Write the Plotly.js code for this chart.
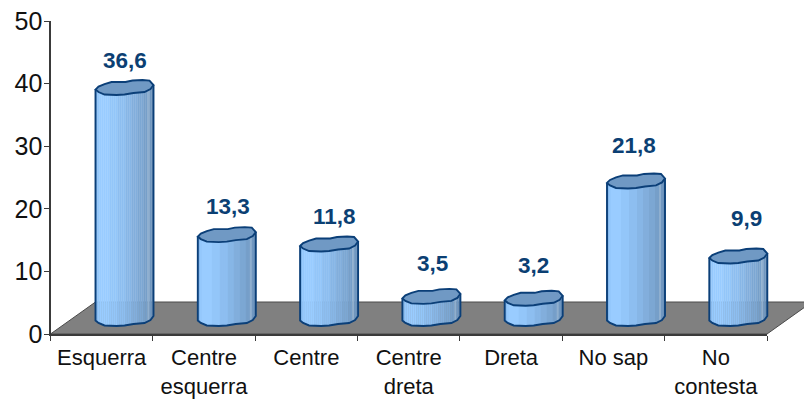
<!DOCTYPE html>
<html>
<head>
<meta charset="utf-8">
<script src="https://cdn.plot.ly/plotly-3.0.1.min.js"></script>
<style>html,body{margin:0;padding:0;background:#fff}#chart{width:804px;height:400px}</style>
</head>
<body>
<div id="chart"></div>
<script>
const categories = ['Esquerra','Centre<br>esquerra','Centre','Centre<br>dreta','Dreta','No sap','No<br>contesta'];
const values = [36.6,13.3,11.8,3.5,3.2,21.8,9.9];
const labelLift = [28,29,28.5,33,33,36,38.5];
const labelNudge = [0.5,1,5,1.5,-0.5,-2,8];
const bandColors = ['#86BAEF','#94C8FC','#99CCFF','#99CCFF','#99CCFF','#99CCFF','#99CCFF',
  '#93C6F9','#93C6F9','#93C6F9','#93C6F9','#8DBEF0','#8DBEF0','#8DBEF0','#8DBEF0',
  '#87B6E6','#87B6E6','#87B6E6','#82AEDC','#82AEDC','#82AEDC','#7CA7D3','#7CA7D3','#7CA7D3',
  '#769FC9','#769FC9','#8FAFCF','#7097C0','#6C92BA'];

const W = 804, H = 400;
const pxX = 102.3, pxY = 6.31;
const idx = categories.map((_, i) => i);
const rimBack = [[-29,1.5],[-26,-1.5],[-20,-4],[-13,-6],[-6,-6],[1,-6],[8,-7.5],[18,-8],[25,-7.5],[29,-3]];
const rimFront = [[-29,1.5],[-26,4],[-20,6.5],[-8,7],[0,6.5],[9,5],[20,4],[26,1],[29,-3]];

const dx = p => p / pxX;
const dy = p => -p / pxY;
function frontAt(p) {
  for (let k = 0; k < rimFront.length - 1; k++) {
    const a = rimFront[k], b = rimFront[k + 1];
    if (p >= a[0] && p <= b[0]) return a[1] + (b[1] - a[1]) * (p - a[0]) / (b[0] - a[0]);
  }
  return 0;
}

const traces = [{
  type: 'scatter', mode: 'none', x: categories, y: values, xaxis: 'x', yaxis: 'y',
  hoverinfo: 'skip', showlegend: false
}];
bandColors.forEach((color, s) => {
  const left = -29 + 2 * s, mid = left + 1;
  const base = dy(frontAt(mid));
  traces.push({
    type: 'bar', xaxis: 'x2', yaxis: 'y2', x: idx,
    y: values.map(v => v - base),
    base: values.map(() => base),
    width: dx(2.3), offset: dx(left),
    marker: {color, line: {width: 0}},
    hoverinfo: 'skip', showlegend: false
  });
});

const shapes = [{
  type: 'path', layer: 'below', xref: 'paper', yref: 'paper',
  path: 'M ' + 50.5 / W + ' ' + (H - 334) / H + ' L ' + 767 / W + ' ' + (H - 334) / H +
        ' L ' + 812 / W + ' ' + (H - 302) / H + ' L ' + 95.5 / W + ' ' + (H - 302) / H + ' Z',
  fillcolor: '#808080', line: {color: '#4a4a4a', width: 1}
}];
const edge = {color: '#0B3F78', width: 1.9};
const pt = (i, v, o) => (i + dx(o[0])) + ' ' + (v + dy(o[1]));
values.forEach((v, i) => {
  let d = 'M ' + pt(i, v, rimFront[0]);
  rimFront.forEach(o => { d += ' L ' + pt(i, 0, o); });
  d += ' L ' + pt(i, v, rimFront[rimFront.length - 1]);
  shapes.push({type: 'path', layer: 'above', xref: 'x2', yref: 'y2', path: d, line: edge});
  let r = 'M ' + rimBack.map(o => pt(i, v, o)).join(' L ');
  rimFront.slice().reverse().slice(1, -1).forEach(o => { r += ' L ' + pt(i, v, o); });
  r += ' Z';
  shapes.push({type: 'path', layer: 'above', xref: 'x2', yref: 'y2', path: r, fillcolor: '#7099C4', line: edge});
});

const annotations = values.map((v, i) => ({
  xref: 'x2', yref: 'y2', x: i, y: v, xanchor: 'center', yanchor: 'middle',
  xshift: labelNudge[i], yshift: labelLift[i], showarrow: false,
  text: String(v).replace('.', ','),
  font: {family: 'Liberation Sans, Arial, sans-serif', size: 22.5, color: '#0B3F73', weight: 'bold'}
}));

const axisLine = '#3a3a3a';
const layout = {
  width: W, height: H, margin: {l: 0, r: 0, t: 0, b: 0},
  paper_bgcolor: 'rgba(0,0,0,0)', plot_bgcolor: 'rgba(0,0,0,0)',
  barmode: 'overlay', showlegend: false,
  font: {family: 'Liberation Sans, Arial, sans-serif', color: '#111'},
  xaxis: {
    domain: [50.5 / W, 767 / W], anchor: 'y', type: 'category', range: [-0.5, 6.5],
    tickson: 'boundaries', ticks: 'outside', ticklen: 5, tickwidth: 1, tickcolor: axisLine,
    showline: true, linecolor: axisLine, linewidth: 1.5, showgrid: false, zeroline: false,
    tickfont: {size: 22, color: '#111'}, tickangle: 0, ticklabelstandoff: 3, fixedrange: true
  },
  yaxis: {
    domain: [(H - 334) / H, (H - 21) / H], anchor: 'x', range: [0, 50], dtick: 10,
    ticks: 'outside', ticklen: 5, tickwidth: 1, tickcolor: axisLine,
    showline: true, linecolor: axisLine, linewidth: 1.2, showgrid: false, zeroline: false,
    tickfont: {size: 25, color: '#111'}, ticklabelstandoff: -3, fixedrange: true
  },
  xaxis2: {
    domain: [0, 1], anchor: 'y2', visible: false, type: 'linear',
    range: [-124.5 / pxX, (W - 124.5) / pxX], fixedrange: true
  },
  yaxis2: {
    domain: [0, 1], anchor: 'x2', visible: false, type: 'linear',
    range: [(319 - H) / pxY, 319 / pxY], fixedrange: true
  },
  shapes, annotations
};
Plotly.newPlot('chart', traces, layout, {displayModeBar: false, staticPlot: true});
</script>
</body>
</html>
